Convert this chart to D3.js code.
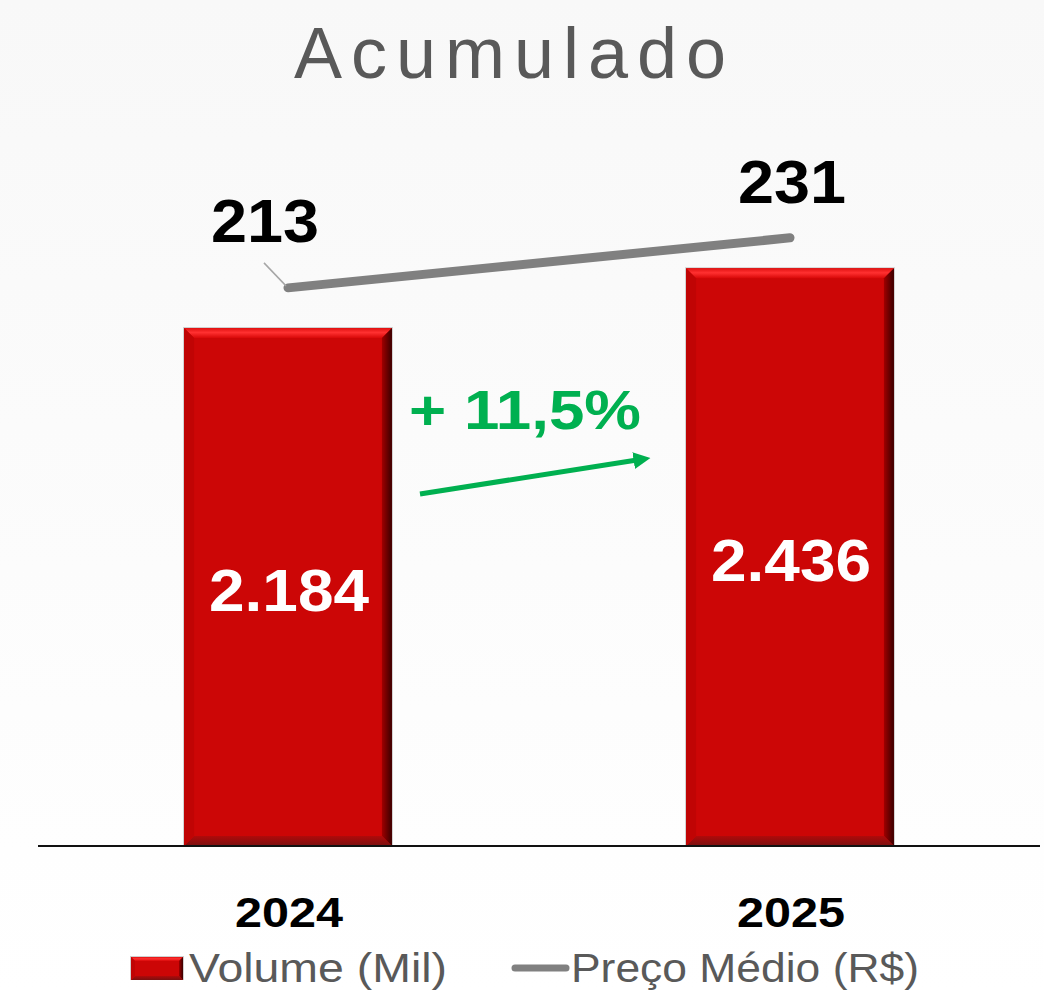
<!DOCTYPE html>
<html>
<head>
<meta charset="utf-8">
<script src="https://cdn.jsdelivr.net/npm/d3@7"></script>
<style>
  html, body { margin: 0; padding: 0; background: #fbfbfb; }
  svg { display: block; }
</style>
</head>
<body>
<div class="chart"></div>
<script>
// data
var years = ['2024', '2025'];
var volume = [2184, 2436];
var volumeLabels = ['2.184', '2.436'];
var price = [213, 231];
var growthLabel = '+ 11,5%';
var legendLabels = ['Volume (Mil)', 'Preço Médio (R$)'];

const width = 1044, height = 993;

var svg = d3.select('.chart')
            .append('svg')
            .attr('width', width)
            .attr('height', height);

var defs = svg.append('defs');

// background, slightly grey at the top
var bg = defs.append('linearGradient').attr('id', 'bg')
             .attr('x1', 0).attr('y1', 0).attr('x2', 0).attr('y2', 1);
bg.append('stop').attr('offset', '0%').attr('stop-color', '#f8f8f8');
bg.append('stop').attr('offset', '100%').attr('stop-color', '#ffffff');
svg.append('rect').attr('width', width).attr('height', height).attr('fill', 'url(#bg)');

var topBevel = defs.append('linearGradient').attr('id', 'topBevel')
             .attr('x1', 0).attr('y1', 0).attr('x2', 0).attr('y2', 1);
topBevel.append('stop').attr('offset', '0%').attr('stop-color', '#e01010');
topBevel.append('stop').attr('offset', '45%').attr('stop-color', '#ff3030');
topBevel.append('stop').attr('offset', '100%').attr('stop-color', '#d80808');

var rightBevel = defs.append('linearGradient').attr('id', 'rightBevel')
             .attr('x1', 0).attr('y1', 0).attr('x2', 1).attr('y2', 0);
rightBevel.append('stop').attr('offset', '0%').attr('stop-color', '#a00000');
rightBevel.append('stop').attr('offset', '100%').attr('stop-color', '#3a0000');

var botBevel = defs.append('linearGradient').attr('id', 'botBevel')
             .attr('x1', 0).attr('y1', 0).attr('x2', 0).attr('y2', 1);
botBevel.append('stop').attr('offset', '0%').attr('stop-color', '#b00a0a');
botBevel.append('stop').attr('offset', '100%').attr('stop-color', '#7a1010');

var arrowHead = defs.append('marker').attr('id', 'arrowHead')
             .attr('viewBox', '0 0 10 10').attr('refX', 2).attr('refY', 5)
             .attr('markerWidth', 3.4).attr('markerHeight', 3.4)
             .attr('orient', 'auto');
arrowHead.append('path').attr('d', 'M0,0 L10,5 L0,10 Z').attr('fill', '#00b050');

// scales
var x = d3.scaleBand()
          .domain(years)
          .range([37, 1041])
          .paddingInner(0.586)
          .paddingOuter(0.293);

var y = d3.scaleLinear()
          .domain([0, 3567])
          .range([846, 0]);

var y2 = d3.scaleLinear()
          .domain([150, 250])
          .range([463, 185]);

// title
svg.append('text')
   .attr('x', width / 2 - 12)
   .attr('y', 78)
   .attr('text-anchor', 'middle')
   .attr('textLength', 432)
   .attr('lengthAdjust', 'spacing')
   .style('font-family', '"Liberation Sans Narrow", "Liberation Sans", sans-serif')
   .style('font-size', '72px')
   .style('fill', '#595959')
   .text('Acumulado');

// bars with a bevel look
const bev = 10;
var bars = svg.selectAll('.bar')
              .data(years)
              .enter()
              .append('g')
              .attr('class', 'bar');

function bevelBar(g, x0, y0, w, h, b) {
    var x1 = x0 + w, y1 = y0 + h;
    g.append('rect').attr('x', x0 - 1).attr('y', y0 - 1).attr('width', w + 2).attr('height', h + 1)
     .attr('fill', '#cfcfcf');
    g.append('rect').attr('x', x0).attr('y', y0).attr('width', w).attr('height', h).attr('fill', '#cc0606');
    g.append('path').attr('d', `M${x0},${y0} L${x1},${y0} L${x1 - b},${y0 + b} L${x0 + b},${y0 + b} Z`)
     .attr('fill', 'url(#topBevel)');
    g.append('path').attr('d', `M${x1},${y0} L${x1},${y1} L${x1 - b},${y1 - b} L${x1 - b},${y0 + b} Z`)
     .attr('fill', 'url(#rightBevel)');
    g.append('path').attr('d', `M${x0},${y1} L${x1},${y1} L${x1 - b},${y1 - b} L${x0 + b},${y1 - b} Z`)
     .attr('fill', 'url(#botBevel)');
    g.append('path').attr('d', `M${x0},${y0} L${x0 + b},${y0 + b} L${x0 + b},${y1 - b} L${x0},${y1} Z`)
     .attr('fill', '#c00404');
}

bars.each(function(d, i) {
    bevelBar(d3.select(this), x(d), y(volume[i]), x.bandwidth(), y(0) - y(volume[i]), bev);
});

// baseline
svg.append('line')
   .attr('x1', 38).attr('x2', 1040)
   .attr('y1', y(0)).attr('y2', y(0))
   .attr('stroke', '#111')
   .attr('stroke-width', 2);

// bar value labels
svg.selectAll('.volLabel')
   .data(years)
   .enter()
   .append('text')
   .attr('class', 'volLabel')
   .attr('x', d => x(d) + x.bandwidth() / 2 + 1)
   .attr('y', (d, i) => (y(volume[i]) + y(0)) / 2 + 24)
   .attr('text-anchor', 'middle')
   .attr('textLength', 160)
   .attr('lengthAdjust', 'spacingAndGlyphs')
   .style('font-family', '"Liberation Sans", Arial, sans-serif')
   .style('font-weight', 'bold')
   .style('font-size', '60px')
   .style('fill', '#ffffff')
   .text((d, i) => volumeLabels[i]);

// price line
var line = d3.line()
             .x(d => x(d) + x.bandwidth() / 2)
             .y((d, i) => y2(price[i]));

svg.append('path')
   .datum(years)
   .attr('d', line)
   .attr('fill', 'none')
   .attr('stroke', '#808080')
   .attr('stroke-width', 9)
   .attr('stroke-linecap', 'round');

// leader line for first price label
var p0x = x(years[0]) + x.bandwidth() / 2, p0y = y2(price[0]);
svg.append('line')
   .attr('x1', p0x - 24).attr('y1', p0y - 25)
   .attr('x2', p0x - 2).attr('y2', p0y - 2)
   .attr('stroke', '#a6a6a6')
   .attr('stroke-width', 1.5);

var priceOffsets = [[-23, -46], [2, -35]];
svg.selectAll('.priceLabel')
   .data(years)
   .enter()
   .append('text')
   .attr('class', 'priceLabel')
   .attr('x', (d, i) => x(d) + x.bandwidth() / 2 + priceOffsets[i][0])
   .attr('y', (d, i) => y2(price[i]) + priceOffsets[i][1])
   .attr('text-anchor', 'middle')
   .attr('textLength', 108)
   .attr('lengthAdjust', 'spacingAndGlyphs')
   .style('font-family', '"Liberation Sans", Arial, sans-serif')
   .style('font-weight', 'bold')
   .style('font-size', '61px')
   .style('fill', '#000000')
   .text((d, i) => price[i]);

// growth annotation
svg.append('text')
   .attr('x', 409)
   .attr('y', 429)
   .attr('textLength', 232)
   .attr('lengthAdjust', 'spacingAndGlyphs')
   .style('font-family', '"Liberation Sans", Arial, sans-serif')
   .style('font-weight', 'bold')
   .style('font-size', '55px')
   .style('fill', '#00b050')
   .text(growthLabel);

svg.append('line')
   .attr('x1', 420).attr('y1', 494)
   .attr('x2', 637).attr('y2', 460)
   .attr('stroke', '#00b050')
   .attr('stroke-width', 5)
   .attr('marker-end', 'url(#arrowHead)');

// category labels
svg.selectAll('.yearLabel')
   .data(years)
   .enter()
   .append('text')
   .attr('class', 'yearLabel')
   .attr('x', d => x(d) + x.bandwidth() / 2 + 1)
   .attr('y', 927)
   .attr('text-anchor', 'middle')
   .attr('textLength', 108)
   .attr('lengthAdjust', 'spacingAndGlyphs')
   .style('font-family', '"Liberation Sans", Arial, sans-serif')
   .style('font-weight', 'bold')
   .style('font-size', '43px')
   .style('fill', '#000000')
   .text(d => d);

// legend
var legend = svg.append('g').attr('class', 'legend');
bevelBar(legend, 131, 957, 52, 23, 4);

legend.append('text')
   .attr('x', 189).attr('y', 982)
   .attr('textLength', 258)
   .attr('lengthAdjust', 'spacingAndGlyphs')
   .style('font-family', '"Liberation Sans", Arial, sans-serif')
   .style('font-size', '41px')
   .style('fill', '#595959')
   .text(legendLabels[0]);

legend.append('line')
   .attr('x1', 515).attr('x2', 566)
   .attr('y1', 968).attr('y2', 968)
   .attr('stroke', '#808080')
   .attr('stroke-width', 7)
   .attr('stroke-linecap', 'round');

legend.append('text')
   .attr('x', 571).attr('y', 982)
   .attr('textLength', 348)
   .attr('lengthAdjust', 'spacingAndGlyphs')
   .style('font-family', '"Liberation Sans", Arial, sans-serif')
   .style('font-size', '41px')
   .style('fill', '#595959')
   .text(legendLabels[1]);
</script>
</body>
</html>
